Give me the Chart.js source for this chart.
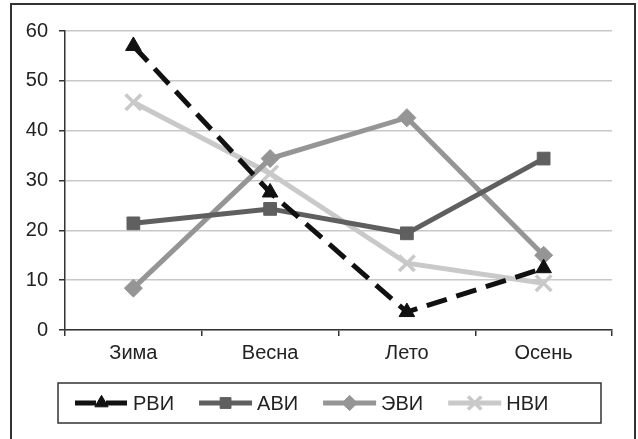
<!DOCTYPE html>
<html>
<head>
<meta charset="utf-8">
<script src="https://cdn.jsdelivr.net/npm/chart.js@4"></script>
<style>
    html, body { margin: 0; padding: 0; background: #fff; }
    #wrap { position: relative; width: 638px; height: 439px; overflow: hidden; }
    #frame { position: absolute; left: 10px; top: 3px; width: 622px; height: 450px; border: 2px solid #333; }
    #c { position: absolute; left: 0; top: 0; }
</style>
</head>
<body>
<div id="wrap">
    <div id="frame"></div>
    <canvas id="c" width="638" height="439"></canvas>
</div>
<script>
const seasons = ['Зима', 'Весна', 'Лето', 'Осень'];
const seriesNames = ['РВИ', 'АВИ', 'ЭВИ', 'НВИ'];
const rviValues = [57, 27.6, 3.6, 12.4];
const aviValues = [21.4, 24.3, 19.4, 34.4];
const eviValues = [8.4, 34.4, 42.6, 15];
const nviValues = [45.7, 31.4, 13.4, 9.4];
const yTicks = [0, 10, 20, 30, 40, 50, 60];

const FONT = '"Liberation Sans", Arial, sans-serif';

// legend box drawn like the excel one: line + marker, framed
const boxLegend = {
    id: 'boxLegend',
    afterDraw(chart) {
        const ctx = chart.ctx;
        const area = chart.chartArea;
        const top = area.bottom + 53;
        const left = 58;
        const w = 543, h = 40;
        ctx.save();
        ctx.strokeStyle = '#333';
        ctx.lineWidth = 1.5;
        ctx.strokeRect(left, top, w, h);
        ctx.font = '20px ' + FONT;
        ctx.textBaseline = 'middle';
        const cy = top + h / 2;
        let x = left + 17;
        chart.data.datasets.forEach(ds => {
            const lineLen = 53;
            ctx.strokeStyle = ds.borderColor;
            ctx.lineWidth = ds.borderWidth;
            ctx.setLineDash(ds.borderDash || []);
            ctx.beginPath();
            ctx.moveTo(x, cy);
            ctx.lineTo(x + lineLen, cy);
            ctx.stroke();
            ctx.setLineDash([]);
            ctx.fillStyle = ds.pointBackgroundColor;
            ctx.strokeStyle = ds.pointBorderColor;
            ctx.lineWidth = ds.pointBorderWidth;
            Chart.helpers.drawPoint(ctx, {
                pointStyle: ds.pointStyle,
                radius: ds.pointRadius * 0.85,
                rotation: 0,
                borderWidth: ds.pointBorderWidth
            }, x + lineLen / 2, cy);
            ctx.fillStyle = '#222';
            ctx.fillText(ds.label, x + lineLen + 5, cy + 1);
            x += lineLen + 5 + ctx.measureText(ds.label).width + 25;
        });
        ctx.restore();
    }
};

new Chart(document.getElementById('c'), {
    type: 'line',
    data: {
        labels: seasons,
        datasets: [
            {
                label: seriesNames[0],
                data: rviValues,
                borderColor: '#111',
                borderWidth: 5,
                borderDash: [21, 10],
                borderCapStyle: 'butt',
                pointStyle: 'triangle',
                pointRadius: 9,
                pointBackgroundColor: '#111',
                pointBorderColor: '#111',
                pointBorderWidth: 1
            },
            {
                label: seriesNames[1],
                data: aviValues,
                borderColor: '#5f5f5f',
                borderWidth: 5,
                pointStyle: 'rect',
                pointRadius: 9,
                pointBackgroundColor: '#5f5f5f',
                pointBorderColor: '#5f5f5f',
                pointBorderWidth: 1
            },
            {
                label: seriesNames[2],
                data: eviValues,
                borderColor: '#959595',
                borderWidth: 5,
                pointStyle: 'rectRot',
                pointRadius: 9,
                pointBackgroundColor: '#959595',
                pointBorderColor: '#959595',
                pointBorderWidth: 1
            },
            {
                label: seriesNames[3],
                data: nviValues,
                borderColor: '#c9c9c9',
                borderWidth: 5,
                pointStyle: 'crossRot',
                pointRadius: 11,
                pointBackgroundColor: '#c9c9c9',
                pointBorderColor: '#c9c9c9',
                pointBorderWidth: 3.5
            }
        ]
    },
    options: {
        responsive: false,
        animation: false,
        layout: {
            padding: { left: 26, right: 26, top: 31, bottom: 69 }
        },
        plugins: {
            legend: { display: false },
            tooltip: { enabled: false }
        },
        scales: {
            x: {
                offset: true,
                grid: {
                    offset: true,
                    drawOnChartArea: false,
                    drawTicks: true,
                    tickLength: 6,
                    color: '#333',
                    lineWidth: 1.5
                },
                border: { color: '#333', width: 1.5 },
                ticks: {
                    color: '#222',
                    padding: 5,
                    font: { family: FONT, size: 20 }
                },
                afterFit(scale) { scale.height = 40; }
            },
            y: {
                min: 0,
                max: 60,
                afterBuildTicks(scale) {
                    scale.ticks = yTicks.map(v => ({ value: v }));
                },
                grid: {
                    color: '#c8c8c8',
                    lineWidth: 1.5,
                    tickLength: 6,
                    tickColor: '#333'
                },
                border: { color: '#333', width: 1.5 },
                ticks: {
                    color: '#222',
                    padding: 11,
                    font: { family: FONT, size: 20 }
                },
                afterFit(scale) { scale.width = 39; }
            }
        }
    },
    plugins: [boxLegend]
});
</script>
</body>
</html>
